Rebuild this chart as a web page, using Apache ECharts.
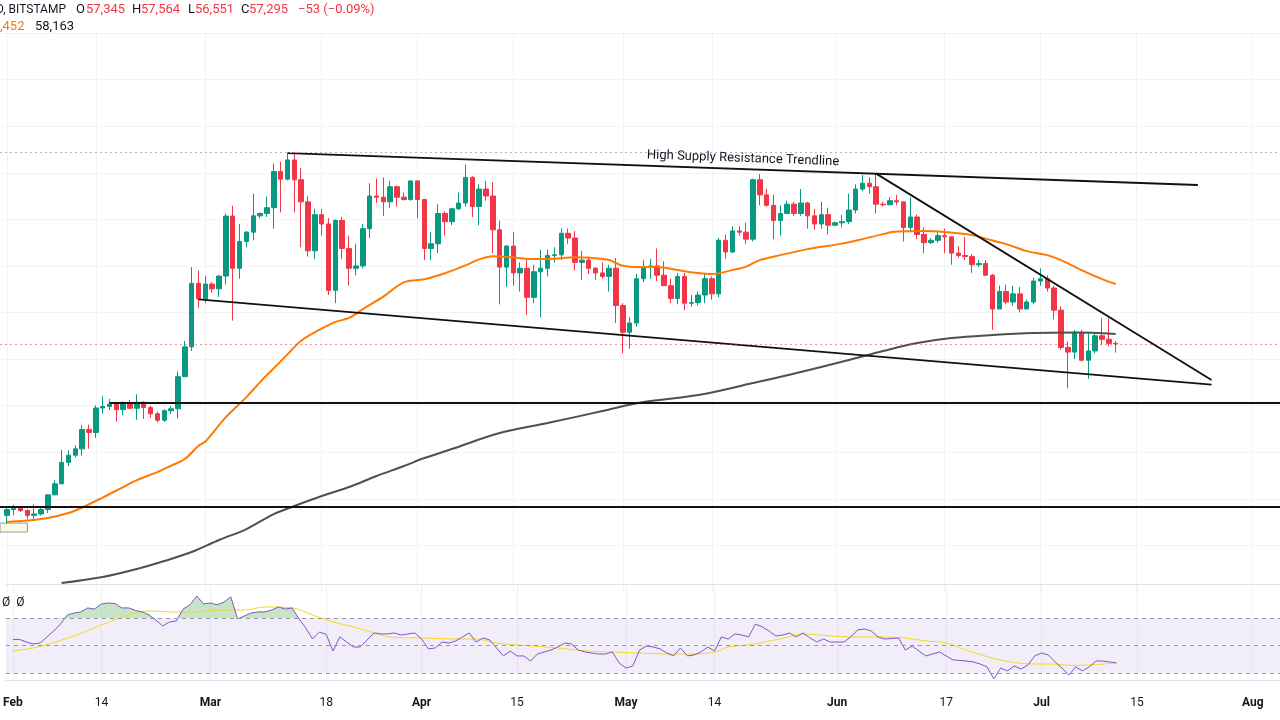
<!DOCTYPE html>
<html>
<head>
<meta charset="utf-8">
<script src="https://cdn.jsdelivr.net/npm/echarts@6/dist/echarts.min.js"></script>
<style>html,body{margin:0;padding:0;background:#fff;}#c{width:1280px;height:720px;}</style>
</head>
<body>
<div id="c"></div>
<script>
// ---------- DATA ----------
// Daily candles, 2024-02-01 .. 2024-07-12 (BTC/USD, Bitstamp)
const firstCandleDate = '2024-02-01';
const opens = [42580,43080,43190,42990,42580,42700,43090,44340,45290,47130,47750,48290,49960,49700,51800,51930,52130,51660,52140,51780,52290,51840,51300,50750,51570,51730,54490,57050,62500,
61170,62440,62030,63130,68280,63800,66100,66900,68300,68500,69000,72100,71450,73100,71400,69500,65300,68400,67600,61900,67900,65500,63800,64000,67200,70000,69900,69500,70800,69900,69700,
71300,69700,65500,65900,68500,67800,68900,69400,71600,69100,70600,70000,67100,63900,65700,63400,63800,61300,63500,63800,64900,64950,66800,66400,64300,64500,63800,63400,63100,63800,
60600,58300,59100,62900,63900,64000,63200,62300,61200,63100,60800,60850,61500,62900,61600,66200,65200,67000,66900,66300,71400,70100,69200,67900,68500,69300,68500,69400,68300,67600,68400,
67500,67700,67800,68800,70600,71100,70800,69300,69250,69600,69500,67300,68200,66700,66000,66200,66600,66500,65100,64900,64800,64100,64200,63200,60300,61800,60900,61600,60300,60900,
62700,62900,62100,60200,57000,56600,58200,55900,56700,58000,57700,57345];
const highs = [43290,43480,43380,43120,43530,43380,44370,45600,48200,48170,48590,50330,50370,52040,52820,52580,52160,52380,52490,52980,52380,52000,51500,51700,51950,54940,57550,63900,63600,
63150,62600,63200,68500,69170,67600,67000,70200,68600,69950,72800,72950,73650,73750,72400,70000,68900,68900,68100,68000,68200,66600,65900,67600,71100,71500,71600,71300,70900,70300,71300,
71300,69700,66900,69300,68700,69000,70300,72700,71700,71000,71300,71200,67900,65800,66900,64300,64500,64100,65400,65400,65600,67200,67200,67000,65300,64800,63900,64300,64100,64700,
60800,59600,63300,64500,64600,65500,64400,62900,63400,63400,61500,61800,63400,63100,66400,66700,67400,67400,67700,71500,71900,70600,70100,69200,69600,69500,70600,69500,68900,69500,69000,
67800,68400,70200,71000,71800,71600,71900,69500,69900,70100,69500,69900,68400,67300,66400,66900,67200,66500,65700,66500,65000,64500,64500,63300,62300,62400,62300,62200,61100,63000,
63800,63200,62300,60500,57500,58500,58500,58200,58300,59500,59500,57564];
const lows = [41880,42580,42880,42260,42260,42570,42780,44330,45240,46800,47560,47700,48300,49240,51330,51600,50620,51180,51700,50780,50850,50950,50550,50590,51290,50900,54450,56700,60400,
60800,61700,61330,62400,59300,62900,65600,66200,68100,68200,67200,68600,71350,68600,65600,64800,64600,66600,61500,60800,64600,62300,63200,63800,66400,69400,68300,69000,69100,69600,69600,
68100,64500,64500,65100,66600,67500,68800,69100,68200,67500,69600,65100,60700,62200,62300,61800,59800,60800,59600,63100,64300,64500,65900,63600,62800,63300,62800,62900,61800,59100,
56500,56900,58800,62600,62900,62700,62300,60800,60700,60200,60500,60600,60800,61100,61300,64600,65100,66600,65900,66100,69200,69100,66300,66600,68500,68300,68300,67200,67100,67200,66700,
67400,67300,67600,68500,70400,70200,68500,69100,69200,69200,66100,66900,66300,65100,65900,66000,65100,64100,64700,64500,63400,63900,63150,58500,60300,60700,60600,60000,60300,60700,
62300,61800,59400,56800,53500,56000,55800,54300,56500,57200,57100,56551];
const closes = [43080,43190,42990,42580,42700,43090,44340,45290,47130,47750,48290,49960,49700,51800,51930,52130,51660,52140,51780,52290,51840,51300,50750,51570,51730,54490,57050,62500,61170,
62440,62030,63130,68280,63800,66100,66900,68300,68500,69000,72100,71450,73100,71400,69500,65300,68400,67600,61900,67900,65500,63800,64000,67200,70000,69900,69500,70800,69900,69700,71300,
69700,65500,65900,68500,67800,68900,69400,71600,69100,70600,70000,67100,63900,65700,63400,63800,61300,63500,63800,64900,64950,66800,66400,64300,64500,63800,63400,63100,63800,60600,
58300,59100,62900,63900,64000,63200,62300,61200,63100,60800,60850,61500,62900,61600,66200,65200,67000,66900,66300,71400,70100,69200,67900,68500,69300,68500,69400,68300,67600,68400,67500,
67700,67800,68800,70600,71100,70800,69300,69250,69600,69500,67300,68200,66700,66000,66200,66600,66500,65100,64900,64800,64100,64200,63200,60300,61800,60900,61600,60300,60900,62700,
62900,62100,60200,57000,56600,58200,55900,56700,58000,57700,57345,57295];

// Orange moving average
const maOrangeDates = ['2024-02-01','2024-02-04','2024-02-07','2024-02-10','2024-02-12','2024-02-15','2024-02-18','2024-02-20','2024-02-23','2024-02-25','2024-02-27','2024-02-29',
'2024-03-01','2024-03-04','2024-03-07','2024-03-09','2024-03-11','2024-03-13','2024-03-15','2024-03-18','2024-03-20','2024-03-22','2024-03-24','2024-03-27','2024-03-30',
'2024-04-02','2024-04-05','2024-04-08','2024-04-10','2024-04-12','2024-04-15','2024-04-18','2024-04-21','2024-04-24','2024-04-27','2024-04-29','2024-04-30',
'2024-05-01','2024-05-03','2024-05-06','2024-05-09','2024-05-12','2024-05-14','2024-05-17','2024-05-19','2024-05-21','2024-05-24','2024-05-28',
'2024-06-02','2024-06-05','2024-06-08','2024-06-10','2024-06-14','2024-06-17','2024-06-21','2024-06-23','2024-06-26','2024-06-29',
'2024-07-02','2024-07-04','2024-07-07','2024-07-10','2024-07-12'];
const maOrangeValues = [42008,42137,42350,42780,43253,44111,45013,45613,46300,46841,47416,48558,
48927,51021,52737,54026,55210,56403,57579,58618,59193,59537,60292,61356,62584,
62850,63365,64043,64558,64833,64730,64584,64618,64738,64653,64515,64249,
64009,63897,63897,63640,63382,63296,63640,63940,64498,64927,65442,
65914,66301,66730,66945,66988,66902,66644,66344,65872,65271,
64927,64498,63640,62867,62452];

// Dark grey moving average
const maGreyDates = ['2024-02-09','2024-02-15','2024-02-20','2024-02-24','2024-02-28','2024-03-03','2024-03-07','2024-03-11','2024-03-14','2024-03-18','2024-03-22',
'2024-03-26','2024-03-30','2024-04-02','2024-04-06','2024-04-13','2024-04-20','2024-04-28','2024-05-04','2024-05-12','2024-05-20','2024-05-27',
'2024-06-03','2024-06-08','2024-06-13','2024-06-18','2024-06-24','2024-06-30','2024-07-06','2024-07-12'];
const maGreyValues = [36772,37287,37974,38661,39433,40463,41407,42695,43381,44240,45012,
45956,46815,47502,48274,49648,50506,51536,52309,52910,53940,54884,
55914,56687,57373,57803,58060,58232,58275,58163];

// RSI (14) daily values, 2024-02-01 .. 2024-07-12
const rsiValues = [54.4,54.4,52.5,51.1,51.8,56.2,60.5,65.6,72.2,73.6,74.4,77.3,76.5,80.2,80.9,80.5,77.3,77.3,75.5,74.4,72.2,68.5,64.2,67.1,67.8,76.5,79.5,86.0,80.2,
80.9,79.5,81.6,85.3,69.3,71.5,73.6,74.4,74.4,75.8,78.0,76.5,77.3,69.3,62.7,54.7,59.8,58.0,46.0,56.2,52.5,48.9,48.9,54.0,59.1,58.4,58.4,59.1,57.6,58.4,59.1,
54.7,47.5,48.2,52.5,51.8,53.3,56.2,59.1,52.5,55.5,54.0,48.2,42.4,46.0,42.4,42.4,38.7,43.8,45.3,46.7,48.9,51.8,51.1,46.7,45.3,44.5,43.8,43.8,45.3,37.3,
33.6,35.1,46.7,49.6,48.9,47.5,44.5,42.4,48.2,42.4,43.1,45.3,48.9,46.0,56.2,54.7,58.4,57.6,56.2,65.6,63.5,60.5,56.9,57.6,59.1,56.2,59.1,55.5,52.5,54.7,52.5,
52.5,52.5,56.2,61.3,62.0,60.5,56.2,54.7,55.1,55.5,46.7,49.6,46.0,42.4,43.8,45.3,42.4,39.5,39.1,38.7,38.0,36.5,34.4,25.6,33.6,31.5,35.1,32.9,35.8,42.4,
44.5,43.1,38.0,33.6,28.5,34.4,31.5,34.4,38.7,38.7,38.0,37.3];

// RSI-based moving average
const rsiMaDates = ['2024-02-01','2024-02-04','2024-02-06','2024-02-10','2024-02-14','2024-02-18','2024-02-21','2024-02-24','2024-02-28','2024-03-02','2024-03-06','2024-03-09',
'2024-03-13','2024-03-16','2024-03-19','2024-03-22','2024-03-25','2024-03-28','2024-04-01','2024-04-06','2024-04-09','2024-04-12','2024-04-16','2024-04-21','2024-04-25','2024-04-29',
'2024-05-03','2024-05-07','2024-05-11','2024-05-14','2024-05-16','2024-05-19','2024-05-21','2024-05-24','2024-05-27','2024-05-31',
'2024-06-03','2024-06-07','2024-06-11','2024-06-14','2024-06-17','2024-06-20','2024-06-22','2024-06-24','2024-06-27','2024-06-30','2024-07-03','2024-07-05','2024-07-08','2024-07-12'];
const rsiMaValues = [46.0,48.2,50.7,56.9,64.9,72.2,75.1,74.4,74.4,75.8,75.8,78.0,
77.3,72.2,67.1,63.5,59.1,55.8,55.5,54.7,54.7,51.8,50.0,48.2,46.0,45.3,
44.5,43.8,43.8,45.3,48.9,50.4,52.2,55.1,58.4,56.9,
56.2,56.2,55.5,53.3,51.8,46.4,43.5,40.5,37.6,36.5,36.5,35.5,35.8,37.3];

// Drawn lines (date, price)
const resistanceLine = [['2024-03-13', 73690], ['2024-07-24', 70950]];
const supportLine = [['2024-02-29', 61125], ['2024-07-26', 53810]];
const descendingLine = [['2024-06-07', 71924], ['2024-07-26', 54200]];
const rangeTopLine = [['2024-02-16', 52250], ['2024-08-05', 52250]];
const rangeBottomLevel = 43300;
const highLevel = 73750;
const lastPrice = 57295;
const noteBox = [['2024-01-31', 41150], ['2024-02-04', 41920]];

// Time axis ticks
const tickDates = ['2024-02-01','2024-02-14','2024-03-01','2024-03-18','2024-04-01','2024-04-15','2024-05-01','2024-05-14','2024-06-01','2024-06-17','2024-07-01','2024-07-15','2024-08-01'];
const tickTexts = ['Feb','14','Mar','18','Apr','15','May','14','Jun','17','Jul','15','Aug'];

// Price axis
const priceMin = 36000, priceMax = 84000, priceStep = 4000;
const rsiMin = 24.9, rsiMax = 94.7;

// ---------- BUILD ----------
function iso(t){ return new Date(t).toISOString().slice(0,10); }
const cats = [];
{
  const t0 = Date.UTC(2024,0,31);
  for (let i = 0; i < 188; i++) cats.push(iso(t0 + i*86400000));
}
const firstIdx = cats.indexOf(firstCandleDate);
const candleData = opens.map((o,i)=>[cats[firstIdx+i], o, closes[i], lows[i], highs[i]]);
const rsiData = rsiValues.map((v,i)=>[cats[firstIdx+i], v]);
const orangeData = maOrangeDates.map((d,i)=>[d, maOrangeValues[i]]);
const greyData = maGreyDates.map((d,i)=>[d, maGreyValues[i]]);
const rsiMaData = rsiMaDates.map((d,i)=>[d, rsiMaValues[i]]);

const tickSet = new Set(tickDates);
const tickFn = (idx, val) => tickSet.has(val);
const FONT = 'Roboto, "Noto Sans", sans-serif';
const TXT = '#131722';
const UP = '#089981', DOWN = '#F23645';
const GRID = '#f0f3fa';
const drawStyle = {color: '#111111', width: 1.8, type: 'solid'};

const chart = echarts.init(document.getElementById('c'), null, {renderer: 'canvas'});
chart.setOption({
  animation: false,
  backgroundColor: '#ffffff',
  grid: [
    {left: -3.4, right: -3.2, top: 33, height: 559},
    {left: -3.4, right: -3.2, top: 584, height: 96}
  ],
  xAxis: [
    {type: 'category', gridIndex: 0, data: cats, boundaryGap: false,
     axisLine: {show: false}, axisTick: {show: false}, axisLabel: {show: false},
     splitLine: {show: true, interval: tickFn, lineStyle: {color: GRID, width: 1}}},
    {type: 'category', gridIndex: 1, data: cats, boundaryGap: false,
     axisLine: {show: true, lineStyle: {color: '#e0e3eb'}}, axisTick: {show: false},
     axisLabel: {show: true, interval: tickFn, margin: 17, color: TXT, fontFamily: FONT, fontSize: 12,
       formatter: v => { const k = tickDates.indexOf(v); if (k < 0) return ''; const t = tickTexts[k]; return isNaN(+t) ? '{b|' + t + '}' : '{n|' + t + '}'; },
       rich: {b: {fontWeight: 'bold', fontSize: 12, fontFamily: FONT, color: TXT}, n: {fontSize: 12, fontFamily: FONT, color: TXT}}},
     splitLine: {show: true, interval: tickFn, lineStyle: {color: GRID, width: 1}}},
    {type: 'category', gridIndex: 1, data: cats, boundaryGap: false, position: 'top',
     axisLine: {show: true, lineStyle: {color: '#e0e3eb'}}, axisTick: {show: false}, axisLabel: {show: false}, splitLine: {show: false}}
  ],
  yAxis: [
    {type: 'value', gridIndex: 0, min: priceMin, max: priceMax, interval: priceStep, scale: false,
     axisLine: {show: false}, axisTick: {show: false}, axisLabel: {show: false},
     splitLine: {show: true, showMinLine: false, lineStyle: {color: GRID, width: 1}}},
    {type: 'value', gridIndex: 1, min: rsiMin, max: rsiMax,
     axisLine: {show: false}, axisTick: {show: false}, axisLabel: {show: false}, splitLine: {show: false}}
  ],
  visualMap: [{
    type: 'piecewise', show: false, seriesIndex: 4, dimension: 1,
    pieces: [{gt: 70, lte: 100, color: 'rgba(76,175,80,0.32)'}, {gte: 0, lte: 70, color: 'rgba(255,255,255,0)'}]
  }],
  series: [
    {type: 'candlestick', xAxisIndex: 0, yAxisIndex: 0, data: candleData, encode: {x: 0, y: [1,2,3,4]},
     barWidth: 5, clip: false, z: 2,
     itemStyle: {color: UP, color0: DOWN, borderColor: UP, borderColor0: DOWN, borderWidth: 1}},
    {type: 'line', xAxisIndex: 0, yAxisIndex: 0, data: orangeData, smooth: 0.35, symbol: 'none', z: 3,
     lineStyle: {color: '#FF7A00', width: 2}},
    {type: 'line', xAxisIndex: 0, yAxisIndex: 0, data: greyData, smooth: 0.35, symbol: 'none', z: 4,
     lineStyle: {color: '#505050', width: 2},
     markLine: {silent: true, symbol: ['none','none'], label: {show: false}, animation: false,
       data: [
         [{coord: resistanceLine[0], lineStyle: drawStyle,
           label: {show: true, position: 'insideMiddleTop', formatter: 'High Supply Resistance Trendline', color: TXT, fontSize: 13, fontFamily: FONT, distance: 4}},
          {coord: resistanceLine[1]}],
         [{coord: supportLine[0], lineStyle: drawStyle}, {coord: supportLine[1]}],
         [{coord: descendingLine[0], lineStyle: drawStyle}, {coord: descendingLine[1]}],
         [{coord: rangeTopLine[0], lineStyle: drawStyle}, {coord: rangeTopLine[1]}],
         {yAxis: rangeBottomLevel, lineStyle: drawStyle},
         {yAxis: highLevel, lineStyle: {color: '#b2b5be', width: 1, type: [2,3]}},
         {yAxis: lastPrice, lineStyle: {color: 'rgba(242,54,69,0.55)', width: 1, type: [2,3]}}
       ]},
     markArea: {silent: true, itemStyle: {color: '#fbfae8', borderColor: '#9a9a9a', borderWidth: 1},
       data: [[{coord: noteBox[0]}, {coord: noteBox[1]}]]}},
    {type: 'line', xAxisIndex: 1, yAxisIndex: 1, data: rsiData, symbol: 'none', z: 3,
     lineStyle: {color: '#7E57C2', width: 1},
     markArea: {silent: true, itemStyle: {color: 'rgba(126,87,194,0.1)'}, data: [[{yAxis: 30}, {yAxis: 70}]]},
     markLine: {silent: true, symbol: ['none','none'], label: {show: false},
       lineStyle: {color: '#9598a1', width: 1, type: [4,4]},
       data: [{yAxis: 70}, {yAxis: 50}, {yAxis: 30}]}},
    {type: 'line', xAxisIndex: 1, yAxisIndex: 1, data: rsiData, symbol: 'none', z: 2,
     lineStyle: {width: 0, opacity: 0}, areaStyle: {origin: 70, opacity: 1}},
    {type: 'line', xAxisIndex: 1, yAxisIndex: 1, data: rsiMaData, smooth: 0.35, symbol: 'none', z: 2,
     lineStyle: {color: '#F9D71C', width: 1}}
  ],
  graphic: [
    {type: 'text', x: -4, y: 10, style: {text: 'D, BITSTAMP', fill: TXT, font: '12px ' + FONT, textVerticalAlign: 'middle'}},
    {type: 'text', x: 76, y: 10, style: {text: 'O', fill: TXT, font: '13px ' + FONT, textVerticalAlign: 'middle'}},
    {type: 'text', x: 86, y: 10, style: {text: '57,345', fill: DOWN, font: '13px ' + FONT, textVerticalAlign: 'middle'}},
    {type: 'text', x: 132, y: 10, style: {text: 'H', fill: TXT, font: '13px ' + FONT, textVerticalAlign: 'middle'}},
    {type: 'text', x: 141, y: 10, style: {text: '57,564', fill: DOWN, font: '13px ' + FONT, textVerticalAlign: 'middle'}},
    {type: 'text', x: 188, y: 10, style: {text: 'L', fill: TXT, font: '13px ' + FONT, textVerticalAlign: 'middle'}},
    {type: 'text', x: 195, y: 10, style: {text: '56,551', fill: DOWN, font: '13px ' + FONT, textVerticalAlign: 'middle'}},
    {type: 'text', x: 241, y: 10, style: {text: 'C', fill: TXT, font: '13px ' + FONT, textVerticalAlign: 'middle'}},
    {type: 'text', x: 249, y: 10, style: {text: '57,295', fill: DOWN, font: '13px ' + FONT, textVerticalAlign: 'middle'}},
    {type: 'text', x: 298, y: 10, style: {text: '\u221253 (\u22120.09%)', fill: DOWN, font: '13px ' + FONT, textVerticalAlign: 'middle'}},
    {type: 'text', x: 0, y: 27, style: {text: ',452', fill: '#FF7A00', font: '13px ' + FONT, textVerticalAlign: 'middle'}},
    {type: 'text', x: 35, y: 27, style: {text: '58,163', fill: TXT, font: '13px ' + FONT, textVerticalAlign: 'middle'}},
    {type: 'text', x: 2, y: 603, style: {text: '\u00D8  \u00D8', fill: TXT, font: '12px ' + FONT, textVerticalAlign: 'middle'}}
  ]
});
</script>
</body>
</html>
